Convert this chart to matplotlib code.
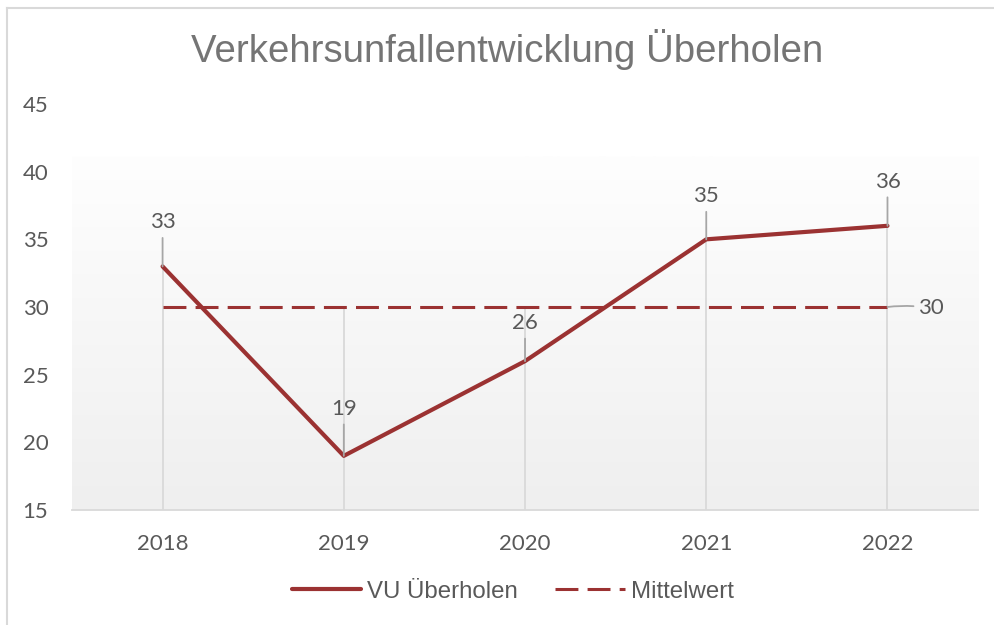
import numpy as np
import matplotlib.pyplot as plt
from matplotlib.lines import Line2D

# Unfallzahlen Überholen pro Jahr
jahre = ["2018", "2019", "2020", "2021", "2022"]
vu_ueberholen = [33, 19, 26, 35, 36]
mittelwert = [30, 30, 30, 30, 30]

rot = "#9b3232"
grau_text = "#595959"
# Abstand der Beschriftung über dem Punkt (pt)
label_abstand = [31.7, 33.8, 27.4, 31.0, 31.7]

fig = plt.figure(figsize=(9.94, 6.25), dpi=100)
ax = fig.add_axes([0.0724, 0.184, 0.9116, 0.6496])

x = np.arange(len(jahre))

# Hintergrund-Verlauf der Zeichenfläche
verlauf = np.linspace(0, 1, 256).reshape(-1, 1)
ax.imshow(verlauf, extent=(-0.5, 4.5, 15, 41.1), aspect="auto",
          cmap=plt.matplotlib.colors.LinearSegmentedColormap.from_list(
              "bg", ["#fefefe", "#efefef"]), origin="upper", zorder=0)

# Lotlinien bis zur Achse
ax.vlines(x, 15, np.maximum(vu_ueberholen, mittelwert), color="#d9d9d9",
          lw=1.3, zorder=1)

ax.plot(x, mittelwert, color=rot, lw=2.2, dashes=(7.5, 3), zorder=2,
        label="Mittelwert", solid_capstyle="butt")
ax.plot(x, vu_ueberholen, color=rot, lw=3.0, zorder=3,
        label="VU Überholen", solid_capstyle="round")

# Datenbeschriftungen mit Führungslinien
for xi, v, d in zip(x, vu_ueberholen, label_abstand):
    ax.annotate(str(v), (xi, v), xytext=(0, d), textcoords="offset points",
                ha="center", va="center", fontsize=16, color=grau_text,
                family="Lato",
                arrowprops=dict(arrowstyle="-", color="#a6a6a6", lw=1.3,
                                shrinkA=2, shrinkB=0))
ax.annotate(str(mittelwert[-1]), (x[-1], mittelwert[-1]), xytext=(31, -1),
            textcoords="offset points", ha="center", va="center",
            fontsize=16, color=grau_text, family="Lato",
            arrowprops=dict(arrowstyle="-", color="#a6a6a6", lw=1.3,
                            shrinkA=1, shrinkB=0,
                            connectionstyle="arc3,rad=0.08"))

ax.set_xlim(-0.5, 4.5)
ax.set_ylim(15, 45)
ax.set_yticks(range(15, 46, 5))
ax.set_xticks(x)
ax.set_xticklabels(jahre)
ax.tick_params(length=0, labelsize=16, labelcolor=grau_text, pad=17)
ax.tick_params(axis="y", pad=17)
for lab in ax.get_xticklabels() + ax.get_yticklabels():
    lab.set_family("Lato")
for s in ["top", "right", "left"]:
    ax.spines[s].set_visible(False)
ax.spines["bottom"].set_color("#d9d9d9")
ax.spines["bottom"].set_linewidth(1.3)
ax.set_facecolor("none")

fig.text(0.51, 0.92, "Verkehrsunfallentwicklung Überholen", ha="center",
         va="center", fontsize=27.6, color="#757575", family="Liberation Sans")

handles = [Line2D([], [], color=rot, lw=3.0, solid_capstyle="round"),
           Line2D([], [], color=rot, lw=2.2, dashes=(7.5, 3))]
fig.legend(handles, ["VU Überholen", "Mittelwert"], loc="center",
           bbox_to_anchor=(0.516, 0.053), ncol=2, frameon=False,
           prop={"family": "Liberation Sans", "size": 17.3},
           labelcolor=grau_text, handlelength=2.9, handletextpad=0.25,
           columnspacing=1.55)

# Rahmen links und oben
fig.add_artist(Line2D([0.007, 0.007], [0, 0.987], color="#d9d9d9", lw=1.5,
                      transform=fig.transFigure))
fig.add_artist(Line2D([0.007, 1], [0.987, 0.987], color="#d9d9d9", lw=1.5,
                      transform=fig.transFigure))

fig.savefig("out.png", dpi=100)
